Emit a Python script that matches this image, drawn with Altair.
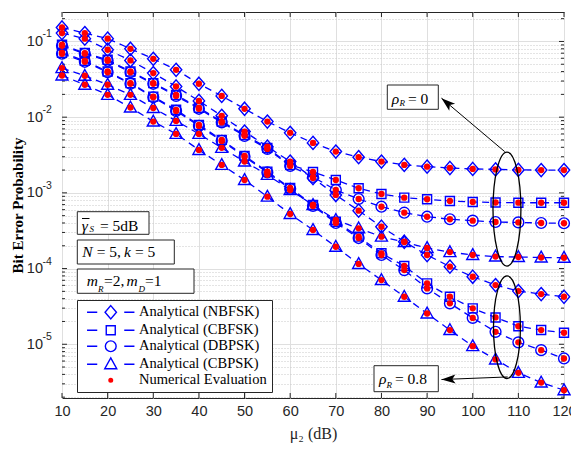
import altair as alt
import pandas as pd

# ---------------- data ----------------
mu2 = list(range(10, 121, 5))

nbfsk_rho0 = [0.153, 0.129, 0.109, 0.080, 0.059, 0.0422, 0.0276, 0.0191, 0.0129, 0.00875, 0.0062, 0.00457,
              0.00351, 0.00296, 0.00259, 0.00234, 0.00222, 0.00213, 0.00207, 0.00204, 0.00201, 0.0020, 0.0020]
nbfsk_rho08 = [0.129, 0.109, 0.0777, 0.0561, 0.0382, 0.0254, 0.0164, 0.0104, 0.00645, 0.00408, 0.00259, 0.00157,
               0.000938, 0.000582, 0.000357, 0.000226, 0.000151, 0.000106, 7.8e-5, 6.05e-5, 5.04e-5, 4.6e-5, 4.24e-5]
cbfsk_rho0 = [0.0904, 0.0703, 0.0573, 0.0401, 0.0282, 0.0197, 0.0133, 0.00875, 0.00583, 0.00393, 0.00234, 0.00189,
              0.00148, 0.00115, 0.000967, 0.000864, 0.000823, 0.000781, 0.000758, 0.000746, 0.000741, 0.00074, 0.00074]
dbpsk_rho0 = [0.0877, 0.0688, 0.0556, 0.0392, 0.0276, 0.0191, 0.0129, 0.00853, 0.00566, 0.00381, 0.00227, 0.00162,
              0.00109, 0.00083, 0.000656, 0.000547, 0.000484, 0.000448, 0.000429, 0.000412, 0.000407, 0.0004, 0.000397]
cbfsk_rho08 = [0.0709, 0.0556, 0.0401, 0.0282, 0.0187, 0.0125, 0.00791, 0.00501, 0.00308, 0.00191, 0.00116, 0.000692,
               0.000416, 0.000264, 0.000159, 0.000108, 6.37e-5, 4.24e-5, 2.98e-5, 2.26e-5, 1.73e-5, 1.54e-5, 1.42e-5]
dbpsk_rho08 = [0.0688, 0.0539, 0.0392, 0.0276, 0.0183, 0.0121, 0.00767, 0.00486, 0.00299, 0.00186, 0.00113, 0.000671,
               0.0004, 0.000253, 0.000151, 9.55e-5, 5.47e-5, 3.47e-5, 2.23e-5, 1.46e-5, 1.06e-5, 8.36e-6, 6.49e-6]
cbpsk_rho0 = [0.0445, 0.0352, 0.0268, 0.0197, 0.0132, 0.00893, 0.00601, 0.00393, 0.00259, 0.00173, 0.00109, 0.000692,
              0.000438, 0.00034, 0.000264, 0.000224, 0.000187, 0.000165, 0.000151, 0.000144, 0.000142, 0.00014, 0.000139]
cbpsk_rho08 = [0.0355, 0.0268, 0.0197, 0.0134, 0.00875, 0.00601, 0.00369, 0.00234, 0.00148, 0.000891, 0.000526, 0.000323,
               0.000194, 0.000115, 7.05e-5, 4.24e-5, 2.55e-5, 1.54e-5, 9.44e-6, 6.3e-6, 4.19e-6, 3.12e-6, 2.47e-6]

mods = ["NBFSK", "CBFSK", "DBPSK", "CBPSK"]
legend_labels = ["Analytical (NBFSK)", "Analytical (CBFSK)", "Analytical (DBPSK)",
                 "Analytical (CBPSK)", "Numerical Evaluation"]

x_ticks = list(range(10, 121, 10))
y_decades = [1e-5, 1e-4, 1e-3, 1e-2, 1e-1]
y_exponents = ["-5", "-4", "-3", "-2", "-1"]
y_minor = [m * 10.0 ** e for e in range(-6, 0) for m in range(2, 10)
           if 1.95e-6 <= m * 10.0 ** e <= 0.245]

# annotation anchors (data coordinates)
ellipse_mu2 = [107.5, 107.5]
ellipse_ber = [6.1e-4, 1.68e-5]
arrow_from_mu2 = [107.0, 107.66]
arrow_from_ber = [0.00351, 3.7e-6]
arrow_to_mu2 = [93.15, 93.15]
arrow_to_ber = [0.01783, 3.42e-6]
arrow_angle = [220, 178]

# ---------------- tables ----------------
series = [("NBFSK", "0", nbfsk_rho0), ("NBFSK", "0.8", nbfsk_rho08),
          ("CBFSK", "0", cbfsk_rho0), ("CBFSK", "0.8", cbfsk_rho08),
          ("DBPSK", "0", dbpsk_rho0), ("DBPSK", "0.8", dbpsk_rho08),
          ("CBPSK", "0", cbpsk_rho0), ("CBPSK", "0.8", cbpsk_rho08)]
rows = []
for mod, rho, vals in series:
    for x, v in zip(mu2, vals):
        rows.append({"mu2": x, "ber": v, "mod": mod, "rho": rho, "series": mod + "_" + rho})
df = pd.DataFrame(rows)

W, H = 502, 386
BLUE = "#0000ff"
RED = "#ff0000"
AX = "#262626"

xs = alt.Scale(domain=[10, 120], nice=False, zero=False)
ys = alt.Scale(type="log", domain=[1.95e-6, 0.245], nice=False)

is_dec = "abs(log(datum.value)/LN10 - round(log(datum.value)/LN10)) < 0.001"
xaxis = alt.Axis(title="μ₂ (dB)", values=x_ticks, ticks=False, tickSize=0, domain=False,
                 grid=True, gridColor="#dfdfdf", gridWidth=1,
                 labelFont="Liberation Sans", labelFontSize=14.5, labelColor=AX, labelPadding=6,
                 labelFlush=False, labelOverlap=False,
                 titleFont="Liberation Serif", titleFontSize=16, titleFontWeight="normal",
                 titleColor=AX, titlePadding=8)
yaxis = alt.Axis(title="Bit Error Probability", values=sorted(y_decades + y_minor), ticks=False, tickSize=0,
                 domain=False, grid=True,
                 gridColor={"condition": {"test": is_dec, "value": "#dfdfdf"}, "value": "#c8c8c8"},
                 gridDash={"condition": {"test": is_dec, "value": []}, "value": [1, 2]},
                 labelExpr=f"{is_dec} ? '10' : ''",
                 labelFont="Liberation Sans", labelFontSize=14.5, labelColor=AX, labelPadding=19.5,
                 labelOverlap=False,
                 titleFont="Liberation Serif", titleFontSize=15, titleFontWeight="bold",
                 titleColor="black", titlePadding=1)


def X(f="mu2"):
    return alt.X(f + ":Q", scale=xs, axis=xaxis)


def Y(f="ber"):
    return alt.Y(f + ":Q", scale=ys, axis=yaxis)


# tick marks (inward, on all four sides)
ymaj = pd.DataFrame({"ber": y_decades})
ymin = pd.DataFrame({"ber": y_minor})
xt = pd.DataFrame({"mu2": x_ticks})
tick_layers = []
for d, ln in ((ymaj, 5), (ymin, 3)):
    tick_layers.append(alt.Chart(d).mark_rule(color=AX, strokeWidth=1).encode(
        y=Y(), x=alt.value(0), x2=alt.value(ln)))
    tick_layers.append(alt.Chart(d).mark_rule(color=AX, strokeWidth=1).encode(
        y=Y(), x=alt.value(W - ln), x2=alt.value(W)))
tick_layers.append(alt.Chart(xt).mark_rule(color=AX, strokeWidth=1).encode(
    x=X(), y=alt.value(H - 5), y2=alt.value(H)))
tick_layers.append(alt.Chart(xt).mark_rule(color=AX, strokeWidth=1).encode(
    x=X(), y=alt.value(0), y2=alt.value(5)))

# superscript exponents of the y tick labels
sup_df = pd.DataFrame({"ber": y_decades, "exp": y_exponents})
sup_layer = alt.Chart(sup_df).mark_text(align="left", baseline="middle", dy=-7, font="Liberation Sans",
                                        fontSize=10.5, color=AX).encode(
    y=Y(), x=alt.value(-19.5), text="exp:N")

# marker shapes
P_DIAMOND = "M0,-1.1L0.95,0L0,1.1L-0.95,0Z"
P_SQUARE = "M-0.75,-0.75H0.75V0.75H-0.75Z"
P_CIRCLE = "M-0.9,0A0.9,0.9 0 1,0 0.9,0A0.9,0.9 0 1,0 -0.9,0Z"
P_TRI = "M0,-1.05L1.0,0.75L-1.0,0.75Z"
DASHES = "M-3.95,0H-2.25M2.25,0H3.95"
P_DOT = "M-0.3,0A0.3,0.3 0 1,0 0.3,0A0.3,0.3 0 1,0 -0.3,0Z"

lines = alt.Chart(df).mark_line(color=BLUE, strokeWidth=1.3, strokeDash=[7, 5]).encode(
    x=X(), y=Y(), detail="series:N")
markers = alt.Chart(df).mark_point(filled=False, color=BLUE, strokeWidth=1.4, size=144, opacity=1).encode(
    x=X(), y=Y(),
    shape=alt.Shape("mod:N", scale=alt.Scale(domain=mods, range=[P_DIAMOND, P_SQUARE, P_CIRCLE, P_TRI]),
                    legend=None))
dots = alt.Chart(df).mark_circle(color=RED, size=40, opacity=1).encode(x=X(), y=Y())

leg = alt.Legend(title=None, orient="none", legendX=15, legendY=288)
legend_df = pd.DataFrame({"label": legend_labels})
legend_layer = alt.Chart(legend_df).transform_filter("false").mark_point(
    size=144, opacity=1, strokeWidth=1.4).encode(
    shape=alt.Shape("label:N", scale=alt.Scale(domain=legend_labels,
                    range=[DASHES + P_DIAMOND, DASHES + P_SQUARE, DASHES + P_CIRCLE, DASHES + P_TRI, P_DOT]),
                    legend=leg),
    stroke=alt.Stroke("label:N", scale=alt.Scale(domain=legend_labels, range=[BLUE] * 4 + [RED]), legend=leg),
    fill=alt.Fill("label:N", scale=alt.Scale(domain=legend_labels, range=["transparent"] * 4 + [RED]),
                  legend=leg),
)

# ellipses and arrows
ell_df = pd.DataFrame({"mu2": ellipse_mu2, "ber": ellipse_ber})
ell_up = alt.Chart(ell_df.iloc[[0]]).mark_point(
    shape="M-0.245,0A0.245,1 0 1,0 0.245,0A0.245,1 0 1,0 -0.245,0Z",
    size=12996, filled=False, color="black", strokeWidth=1.3, opacity=1).encode(x=X(), y=Y())
ell_dn = alt.Chart(ell_df.iloc[[1]]).mark_point(
    shape="M-0.262,0A0.262,1 0 1,0 0.262,0A0.262,1 0 1,0 -0.262,0Z",
    size=10530, filled=False, color="black", strokeWidth=1.3, opacity=1).encode(x=X(), y=Y())
arr_df = pd.DataFrame({"mu2": arrow_from_mu2, "ber": arrow_from_ber,
                       "mu2_end": arrow_to_mu2, "ber_end": arrow_to_ber, "angle": arrow_angle})
arr_lines = alt.Chart(arr_df).mark_rule(color="black", strokeWidth=1).encode(
    x=X(), y=Y(), x2=alt.X2("mu2_end"), y2=alt.Y2("ber_end"))
arr_heads = alt.Chart(arr_df).mark_point(
    shape="M0,0L-2,-0.65L-1.55,0L-2,0.65Z", size=196, filled=True, color="black", opacity=1).encode(
    x=alt.X("mu2_end:Q", scale=xs, axis=xaxis), y=alt.Y("ber_end:Q", scale=ys, axis=yaxis),
    angle=alt.Angle("angle:Q", scale=None))

# text boxes (plot-area pixel positions)
one = pd.DataFrame({"a": [0]})


def box(x1, x2, y1, y2):
    return alt.Chart(one).mark_rect(fill="white", stroke=AX, strokeWidth=1).encode(
        x=alt.value(x1), x2=alt.value(x2), y=alt.value(y1), y2=alt.value(y2))


def txt(s, x, y, size=15.5, style="normal"):
    return alt.Chart(one).mark_text(text=s, align="left", baseline="alphabetic", font="Liberation Serif",
                                    fontSize=size, fontStyle=style, color="black").encode(
        x=alt.value(x), y=alt.value(y))


ann = [
    box(15.3, 87, 199.7, 222.3),
    txt("γ", 19.7, 218.5, style="italic"),
    alt.Chart(one).mark_rule(color="black", strokeWidth=1).encode(
        x=alt.value(20), x2=alt.value(27.5), y=alt.value(206.5)),
    txt("S", 27.5, 220.3, size=9, style="italic"),
    txt("= 5dB", 38, 218.5),
    box(15.3, 112.3, 228, 252),
    txt("N", 20.3, 245.3, style="italic"),
    txt("= 5,", 34.7, 245.3),
    txt("k", 62, 245.3, style="italic"),
    txt("= 5", 73, 245.3),
    box(15.3, 132, 257, 281.3),
    txt("m", 24.7, 274, style="italic"),
    txt("R", 36, 279.7, size=9, style="italic"),
    txt("=2,", 42, 274),
    txt("m", 64.5, 274, style="italic"),
    txt("D", 76.5, 279.7, size=9, style="italic"),
    txt("=1", 83, 274),
    box(325.3, 376.3, 73, 97.3),
    txt("ρ", 329.7, 92, style="italic"),
    txt("R", 337.5, 93.7, size=9, style="italic"),
    txt("= 0", 346, 92),
    box(312, 376.3, 353.7, 379.7),
    txt("ρ", 317, 372, style="italic"),
    txt("R", 324.5, 376.3, size=9, style="italic"),
    txt("= 0.8", 333, 372),
]

chart = alt.layer(
    *tick_layers, sup_layer, lines, markers, dots, ell_up, ell_dn, arr_lines, arr_heads, *ann, legend_layer
).resolve_scale(
    shape="independent", stroke="independent", fill="independent"
).properties(
    width=W, height=H,
    autosize=alt.AutoSizeParams(type="none"),
    padding={"left": 62, "top": 12, "right": 7, "bottom": 57},
    background="white",
).configure_view(
    stroke=AX, strokeWidth=1
).configure_legend(
    labelFont="Liberation Serif", labelFontSize=14.5, labelColor="black", labelLimit=400,
    padding=5, rowPadding=0, symbolOffset=21.5, labelOffset=21,
    strokeColor=AX, fillColor="white", symbolStrokeWidth=1.4, symbolSize=144, cornerRadius=0,
)

chart.save("out.html", embed_options={"renderer": "svg", "actions": False})
